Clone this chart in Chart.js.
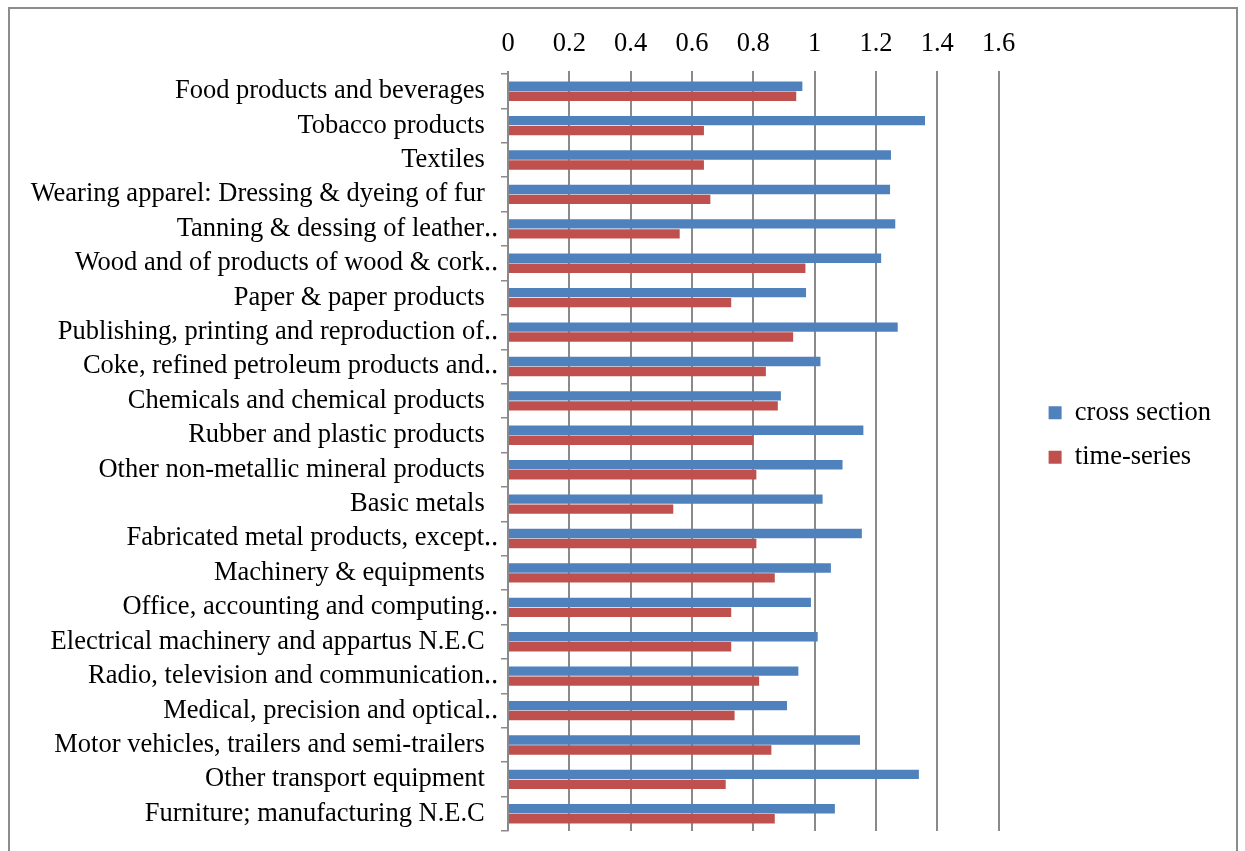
<!DOCTYPE html>
<html>
<head>
<meta charset="utf-8">
<script src="https://cdn.jsdelivr.net/npm/chart.js@4.4.0/dist/chart.umd.min.js"></script>
<style>
  body { margin: 0; background: #fff; }
  .frame {
    position: absolute; left: 8px; top: 7px;
    width: 1226px; height: 866px;
    border: 2px solid #8c8c8c;
  }
</style>
</head>
<body>
<div class="frame"><canvas id="sectorChart" width="1226" height="866"></canvas></div>
<script>
    const categories = [
      'Food products and beverages',
      'Tobacco products',
      'Textiles',
      'Wearing apparel: Dressing & dyeing of fur',
      'Tanning & dessing of leather\u2025',
      'Wood and of products of wood & cork\u2025',
      'Paper & paper products',
      'Publishing, printing and reproduction of\u2025',
      'Coke, refined petroleum products and\u2025',
      'Chemicals and chemical products',
      'Rubber and plastic products',
      'Other non-metallic mineral products',
      'Basic metals',
      'Fabricated metal products, except\u2025',
      'Machinery & equipments',
      'Office, accounting and computing\u2025',
      'Electrical machinery and appartus N.E.C',
      'Radio, television and communication\u2025',
      'Medical, precision and optical\u2025',
      'Motor vehicles, trailers and semi-trailers',
      'Other transport equipment',
      'Furniture; manufacturing N.E.C'
    ];

    const crossSection = [0.96, 1.36, 1.249, 1.246, 1.263, 1.217, 0.972, 1.271, 1.019, 0.89, 1.159,
      1.091, 1.026, 1.154, 1.053, 0.988, 1.01, 0.947, 0.91, 1.148, 1.34, 1.066];
    const timeSeries = [0.94, 0.639, 0.639, 0.66, 0.56, 0.97, 0.728, 0.93, 0.841, 0.88, 0.8,
      0.81, 0.539, 0.81, 0.87, 0.728, 0.728, 0.819, 0.739, 0.859, 0.71, 0.87];

    const xTicks = [0, 0.2, 0.4, 0.6, 0.8, 1, 1.2, 1.4, 1.6];

    const serif = { family: '"Liberation Serif", "Times New Roman", serif', size: 26.5 };
    const gridGrey = '#8a8a8a';

    const ctx = document.getElementById('sectorChart').getContext('2d');

    const sectorChart = new Chart(ctx, {
      type: 'bar',
      data: {
        labels: categories,
        datasets: [{
          label: 'cross section',
          data: crossSection,
          backgroundColor: '#4f81bd',
          barPercentage: 0.94,
          categoryPercentage: 0.58
        }, {
          label: 'time-series',
          data: timeSeries,
          backgroundColor: '#c0504d',
          barPercentage: 0.94,
          categoryPercentage: 0.58
        }]
      },
      options: {
        indexAxis: 'y',
        responsive: false,
        animation: false,
        layout: { padding: { left: 0, top: 0, bottom: 44, right: 15 } },
        scales: {
          x: {
            position: 'top',
            min: 0,
            max: 1.6,
            afterBuildTicks: scale => { scale.ticks = xTicks.map(v => ({ value: v })); },
            afterFit: scale => { scale.height = 65; },
            ticks: {
              color: '#000',
              font: serif,
              padding: 11,
              callback: v => String(v)
            },
            grid: { color: gridGrey, lineWidth: 2, tickLength: 3 },
            border: { display: false }
          },
          y: {
            afterFit: scale => { scale.width = 498; },
            ticks: {
              color: '#000',
              font: serif,
              padding: 3,
              autoSkip: false,
              callback: function (v) {
                const name = categories[v];
                return name.endsWith('\u2025') ? name : name + '  ';
              }
            },
            grid: { drawOnChartArea: false, color: gridGrey, lineWidth: 1.5, tickLength: 7 },
            border: { color: gridGrey, width: 1.5 }
          },
          // empty spacer between the plot and the legend
          gap: {
            type: 'linear',
            position: 'right',
            afterFit: scale => { scale.width = 32; },
            ticks: { display: false },
            grid: { display: false },
            border: { display: false }
          }
        },
        plugins: {
          legend: {
            position: 'right',
            title: { display: true, text: ' ', font: { size: 1 }, padding: { top: 29, bottom: 0 } },
            labels: {
              color: '#000',
              font: serif,
              boxWidth: 13,
              boxHeight: 13,
              padding: 18
            }
          },
          tooltip: { enabled: false }
        }
      }
    });
</script>
</body>
</html>
